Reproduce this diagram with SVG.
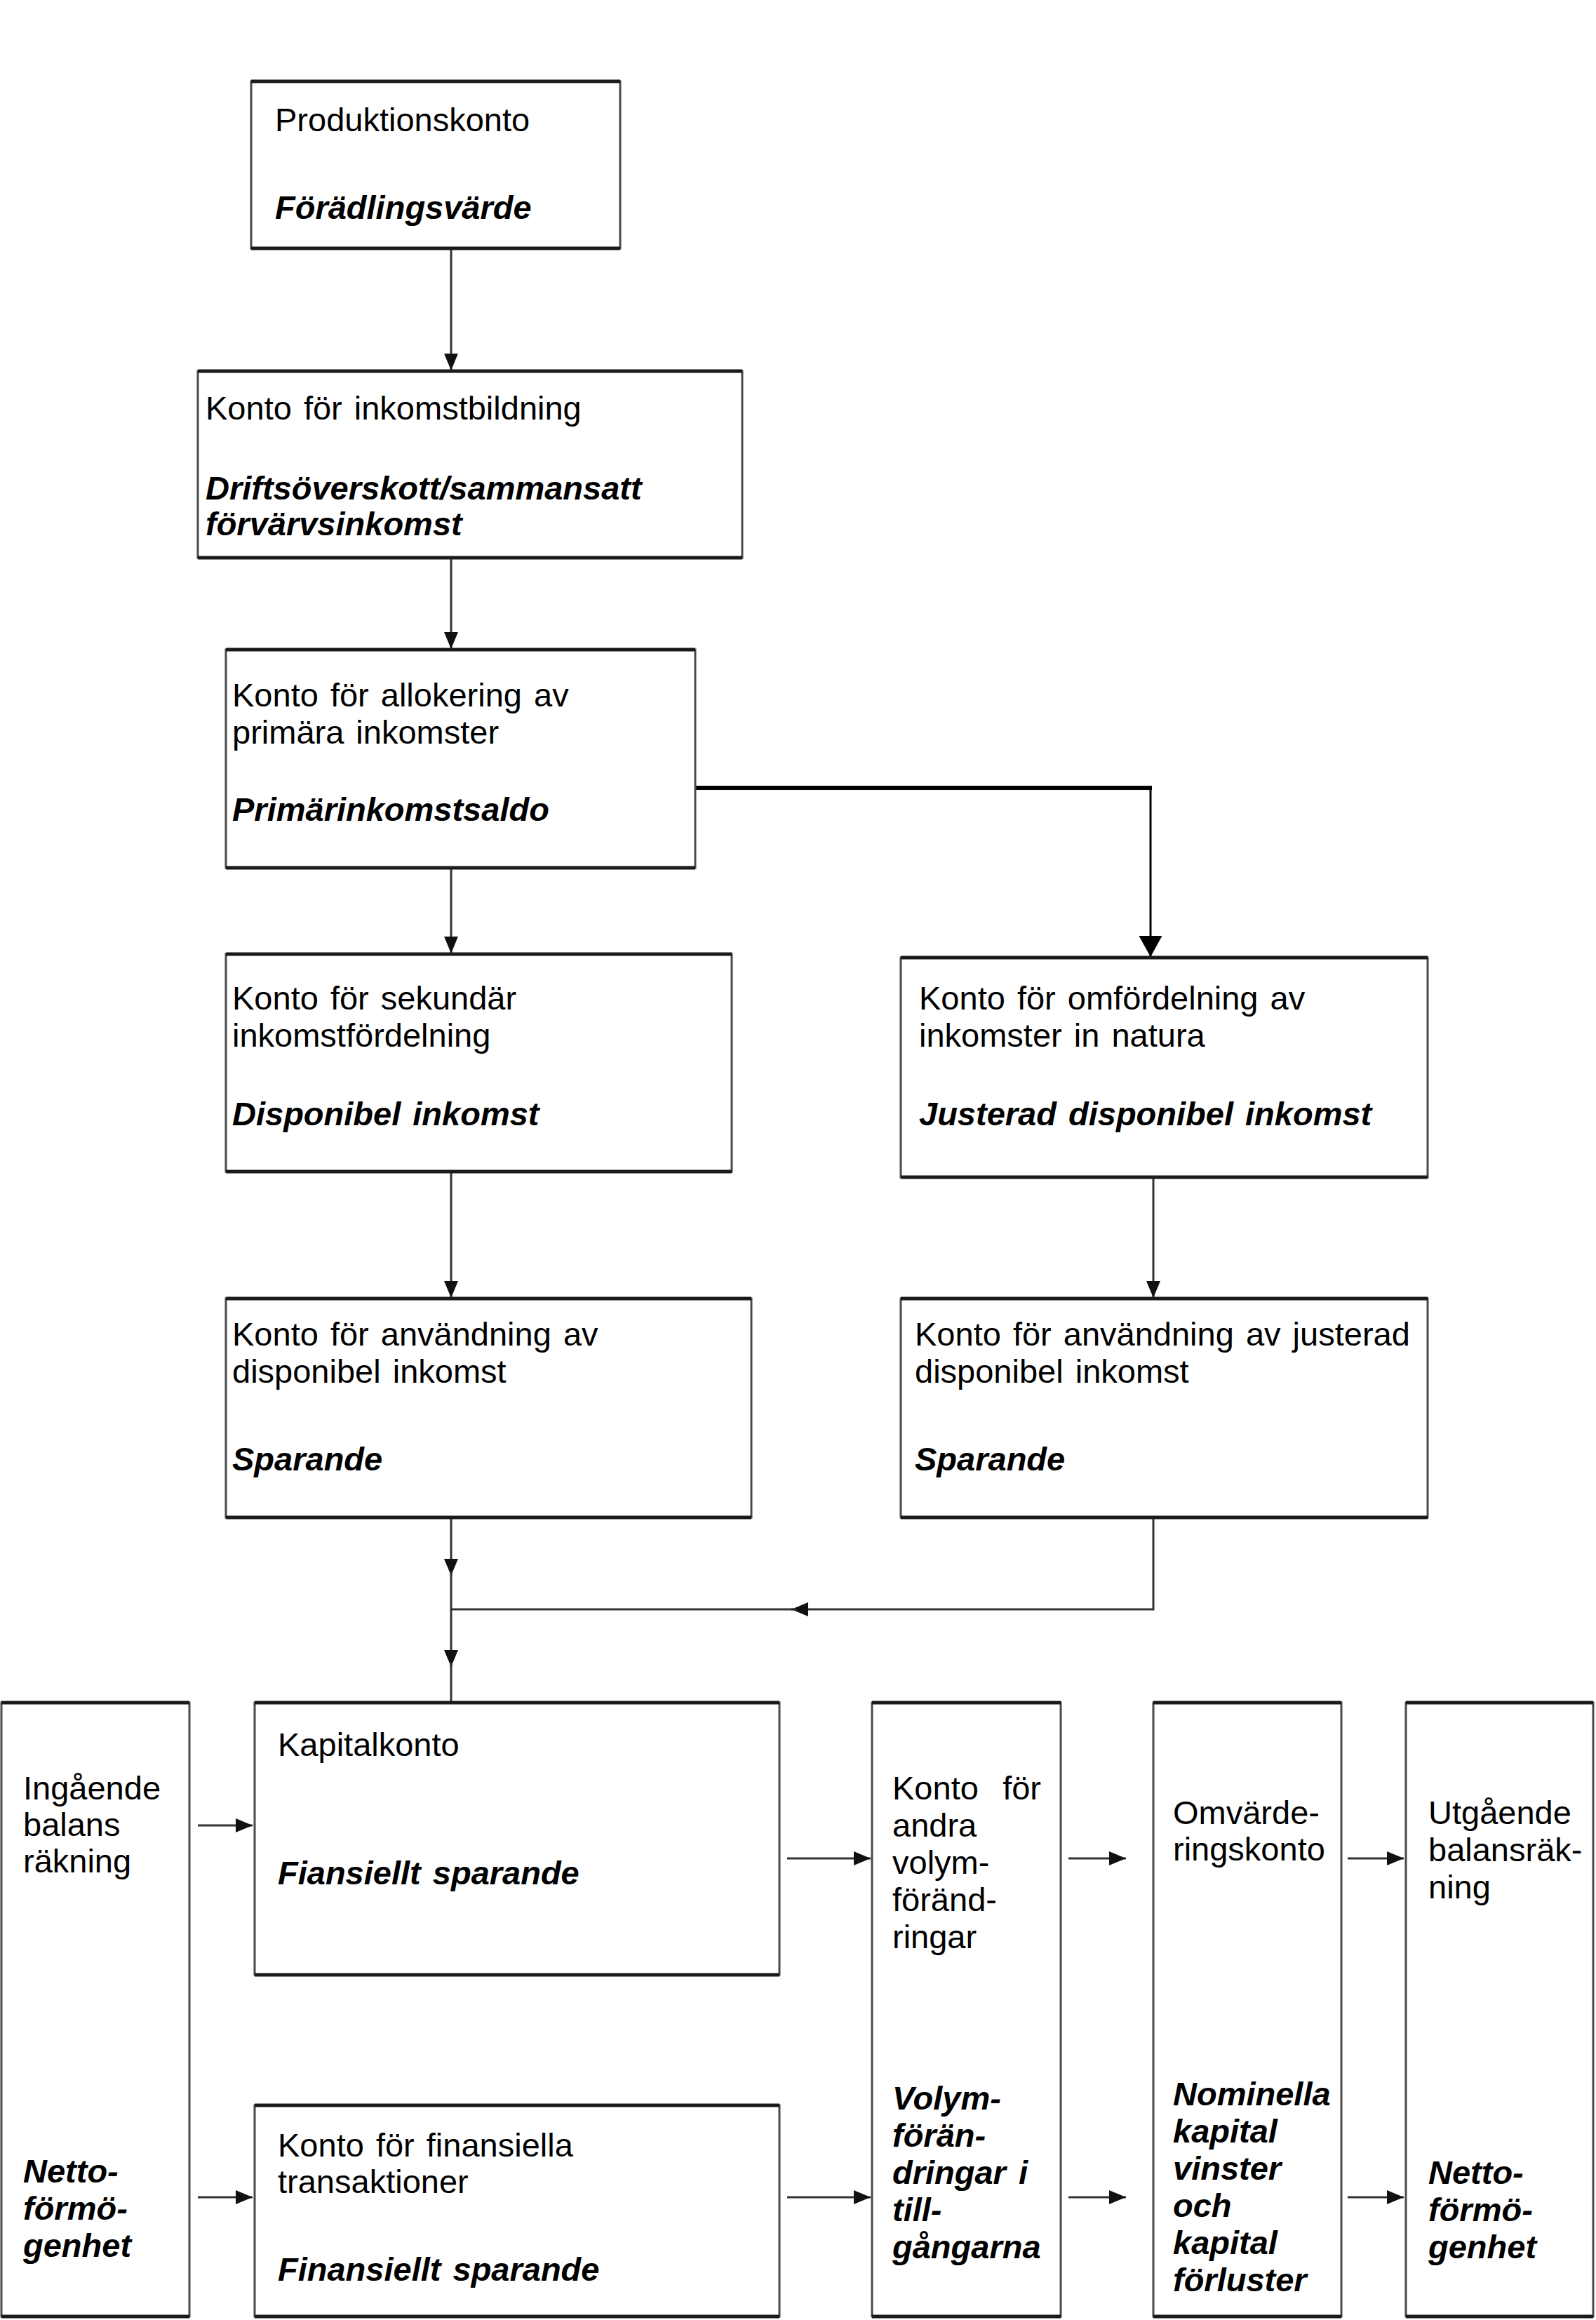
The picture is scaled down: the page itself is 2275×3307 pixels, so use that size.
<svg xmlns="http://www.w3.org/2000/svg" width="2275" height="3307" viewBox="0 0 2275 3307">
<style>
.box{fill:#fff;stroke:#4a4a4a;stroke-width:3}
.edge{fill:none;stroke:#1a1a1a;stroke-width:5}
.t{font-family:"Liberation Sans",Arial,Helvetica,sans-serif;font-size:47px;fill:#000;word-spacing:4px}
.b{font-weight:bold;font-style:italic}
.c{fill:none;stroke:#333;stroke-width:3}
.cs{fill:none;stroke:#000;stroke-width:3}
</style>
<defs>
<marker id="ah" markerUnits="userSpaceOnUse" markerWidth="26" markerHeight="22" refX="24" refY="10" orient="auto">
<path d="M0,0 L24,10 L0,20 Z" fill="#111"/>
</marker>
<marker id="ahBig" markerUnits="userSpaceOnUse" markerWidth="32" markerHeight="34" refX="30" refY="16.5" orient="auto">
<path d="M0,0 L30,16.5 L0,33 Z" fill="#000"/>
</marker>
</defs>
<rect width="2275" height="3307" fill="#fff"/>

<g id="connectors">
<path class="c" d="M643,356 V528" marker-end="url(#ah)"/>
<path class="c" d="M643,797 V925" marker-end="url(#ah)"/>
<path class="c" d="M643,1239 V1359" marker-end="url(#ah)"/>
<path class="c" d="M643,1672 V1850" marker-end="url(#ah)"/>
<path class="c" d="M1644,1680 V1850" marker-end="url(#ah)"/>
<path fill="none" stroke="#000" stroke-width="6" d="M991,1123 H1642"/>
<path class="cs" d="M1640,1120 V1364" marker-end="url(#ahBig)"/>
<path class="c" d="M643,2165 V2246" marker-end="url(#ah)"/>
<path class="c" d="M643,2240 V2376" marker-end="url(#ah)"/>
<path class="c" d="M643,2370 V2426"/>
<path class="c" d="M1644,2165 V2294 H1128" marker-end="url(#ah)"/>
<path class="c" d="M1135,2294 H643"/>
<path class="c" d="M282,2602 H360" marker-end="url(#ah)"/>
<path class="c" d="M1122,2649 H1241" marker-end="url(#ah)"/>
<path class="c" d="M1523,2649 H1605" marker-end="url(#ah)"/>
<path class="c" d="M1921,2649 H2001" marker-end="url(#ah)"/>
<path class="c" d="M282,3132 H360" marker-end="url(#ah)"/>
<path class="c" d="M1122,3132 H1241" marker-end="url(#ah)"/>
<path class="c" d="M1523,3132 H1605" marker-end="url(#ah)"/>
<path class="c" d="M1921,3132 H2001" marker-end="url(#ah)"/>
</g>

<g id="produktionskonto">
<rect class="box" x="358" y="116" width="526" height="238" stroke-width="5"/>
<path class="edge" d="M358,116 H884 M358,354 H884"/>
<text class="t" x="392" y="187">Produktionskonto</text>
<text class="t b" x="392" y="312">Förädlingsvärde</text>
</g>

<g id="inkomstbildning">
<rect class="box" x="282" y="529" width="776" height="266"/>
<path class="edge" d="M282,529 H1058 M282,795 H1058"/>
<text class="t" x="293" y="598">Konto för inkomstbildning</text>
<text class="t b" x="293" y="712">Driftsöverskott/sammansatt</text>
<text class="t b" x="293" y="763">förvärvsinkomst</text>
</g>

<g id="allokering">
<rect class="box" x="322" y="926" width="669" height="311"/>
<path class="edge" d="M322,926 H991 M322,1237 H991"/>
<text class="t" x="331" y="1007">Konto för allokering av</text>
<text class="t" x="331" y="1060">primära inkomster</text>
<text class="t b" x="331" y="1170">Primärinkomstsaldo</text>
</g>

<g id="sekundar">
<rect class="box" x="322" y="1360" width="721" height="310"/>
<path class="edge" d="M322,1360 H1043 M322,1670 H1043"/>
<text class="t" x="331" y="1439">Konto för sekundär</text>
<text class="t" x="331" y="1492">inkomstfördelning</text>
<text class="t b" x="331" y="1604">Disponibel inkomst</text>
</g>

<g id="omfordelning">
<rect class="box" x="1284" y="1365" width="751" height="313"/>
<path class="edge" d="M1284,1365 H2035 M1284,1678 H2035"/>
<text class="t" x="1310" y="1439">Konto för omfördelning av</text>
<text class="t" x="1310" y="1492">inkomster in natura</text>
<text class="t b" x="1310" y="1604">Justerad disponibel inkomst</text>
</g>

<g id="anvandning">
<rect class="box" x="322" y="1851" width="749" height="312"/>
<path class="edge" d="M322,1851 H1071 M322,2163 H1071"/>
<text class="t" x="331" y="1918">Konto för användning av</text>
<text class="t" x="331" y="1971">disponibel inkomst</text>
<text class="t b" x="331" y="2096">Sparande</text>
</g>

<g id="anvandning-justerad">
<rect class="box" x="1284" y="1851" width="751" height="312"/>
<path class="edge" d="M1284,1851 H2035 M1284,2163 H2035"/>
<text class="t" x="1304" y="1918">Konto för användning av justerad</text>
<text class="t" x="1304" y="1971">disponibel inkomst</text>
<text class="t b" x="1304" y="2096">Sparande</text>
</g>

<g id="ingaende">
<rect class="box" x="2" y="2427" width="268" height="875"/>
<path class="edge" d="M2,2427 H270"/>
<path class="edge" stroke-width="8" d="M2,3302 H270"/>
<text class="t" x="33" y="2565">Ingående</text>
<text class="t" x="33" y="2617">balans</text>
<text class="t" x="33" y="2669">räkning</text>
<text class="t b" x="33" y="3111">Netto-</text>
<text class="t b" x="33" y="3164">förmö-</text>
<text class="t b" x="33" y="3217">genhet</text>
</g>

<g id="kapitalkonto">
<rect class="box" x="363" y="2427" width="748" height="388"/>
<path class="edge" d="M363,2427 H1111 M363,2815 H1111"/>
<text class="t" x="396" y="2503">Kapitalkonto</text>
<text class="t b" x="396" y="2686">Fiansiellt sparande</text>
</g>

<g id="finansiella">
<rect class="box" x="363" y="3001" width="748" height="301"/>
<path class="edge" d="M363,3001 H1111"/>
<path class="edge" stroke-width="8" d="M363,3302 H1111"/>
<text class="t" x="396" y="3074">Konto för finansiella</text>
<text class="t" x="396" y="3126">transaktioner</text>
<text class="t b" x="396" y="3251">Finansiellt sparande</text>
</g>

<g id="volymforandringar">
<rect class="box" x="1243" y="2427" width="269" height="875"/>
<path class="edge" d="M1243,2427 H1512"/>
<path class="edge" stroke-width="8" d="M1243,3302 H1512"/>
<text class="t" x="1272" y="2565">Konto</text>
<text class="t" x="1484" y="2565" text-anchor="end">för</text>
<text class="t" x="1272" y="2618">andra</text>
<text class="t" x="1272" y="2671">volym-</text>
<text class="t" x="1272" y="2724">föränd-</text>
<text class="t" x="1272" y="2777">ringar</text>
<text class="t b" x="1272" y="3007">Volym-</text>
<text class="t b" x="1272" y="3060">förän-</text>
<text class="t b" x="1272" y="3113">dringar<tspan x="1452">i</tspan></text>
<text class="t b" x="1272" y="3166">till-</text>
<text class="t b" x="1272" y="3219">gångarna</text>
</g>

<g id="omvardering">
<rect class="box" x="1644" y="2427" width="268" height="875"/>
<path class="edge" d="M1644,2427 H1912"/>
<path class="edge" stroke-width="8" d="M1644,3302 H1912"/>
<text class="t" x="1672" y="2600">Omvärde-</text>
<text class="t" x="1672" y="2652">ringskonto</text>
<text class="t b" x="1672" y="3001">Nominella</text>
<text class="t b" x="1672" y="3054">kapital</text>
<text class="t b" x="1672" y="3107">vinster</text>
<text class="t b" x="1672" y="3160">och</text>
<text class="t b" x="1672" y="3213">kapital</text>
<text class="t b" x="1672" y="3266">förluster</text>
</g>

<g id="utgaende">
<rect class="box" x="2004" y="2427" width="267" height="875"/>
<path class="edge" d="M2004,2427 H2271"/>
<path class="edge" stroke-width="8" d="M2004,3302 H2271"/>
<text class="t" x="2036" y="2600">Utgående</text>
<text class="t" x="2036" y="2653">balansräk-</text>
<text class="t" x="2036" y="2706">ning</text>
<text class="t b" x="2036" y="3113">Netto-</text>
<text class="t b" x="2036" y="3166">förmö-</text>
<text class="t b" x="2036" y="3219">genhet</text>
</g>
</svg>
